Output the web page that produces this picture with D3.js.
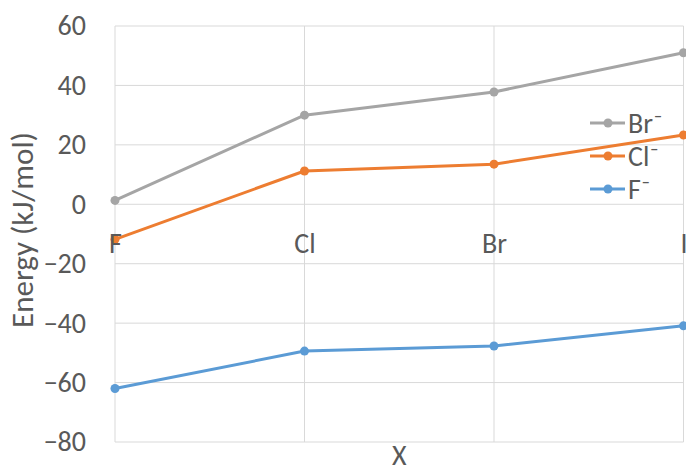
<!DOCTYPE html>
<html><head><meta charset="utf-8">
<script src="https://cdn.jsdelivr.net/npm/d3@7"></script>
<style>
html,body{margin:0;padding:0;background:#fff;}
svg{display:block;font-family:Calibri,Carlito,Lato,"Open Sans",sans-serif;}
</style></head>
<body>
<svg id="chart" width="686" height="471"></svg>
<script>
const categories = ["F", "Cl", "Br", "I"];
const seriesNames = ["Br\u207B", "Cl\u207B", "F\u207B"];
const brValues = [1.3, 30.0, 37.8, 51.0];
const clValues = [-11.8, 11.2, 13.5, 23.3];
const fValues = [-62.0, -49.4, -47.7, -40.9];
const yTicks = [-80, -60, -40, -20, 0, 20, 40, 60];
const seriesColors = ["#a5a5a5", "#ed7d31", "#5b9bd5"];

const series = [brValues, clValues, fValues].map((v, i) => ({name: seriesNames[i], values: v, color: seriesColors[i]}));

const svg = d3.select("#chart");
const x = d3.scalePoint().domain(categories).range([115, 683.5]);
const y = d3.scaleLinear().domain([-80, 60]).range([442, 26]);
const textColor = "#595959";
const gridColor = "#d9d9d9";
const fs = 28;
const ff = "Calibri,Carlito,Lato,sans-serif";

// horizontal gridlines
svg.append("g").selectAll("line").data(yTicks).join("line")
  .attr("x1", x.range()[0]).attr("x2", x.range()[1])
  .attr("y1", d => y(d)).attr("y2", d => y(d))
  .attr("stroke", gridColor).attr("stroke-width", 1);
// vertical gridlines
svg.append("g").selectAll("line").data(categories).join("line")
  .attr("x1", d => x(d)).attr("x2", d => x(d))
  .attr("y1", y(60)).attr("y2", y(-80))
  .attr("stroke", gridColor).attr("stroke-width", 1);

// y axis via d3.axisLeft
const yAxis = svg.append("g").attr("transform", `translate(${x.range()[0]},0)`)
  .call(d3.axisLeft(y).tickValues(yTicks).tickSize(0).tickPadding(29));
yAxis.select(".domain").remove();
yAxis.selectAll("text").attr("fill", textColor).style("font-size", fs + "px")
  .style("font-family", ff);

// lines
const line = d3.line().x((d, i) => x(categories[i])).y(d => y(d));
series.forEach(s => {
  svg.append("path").attr("d", line(s.values)).attr("fill", "none")
    .attr("stroke", s.color).attr("stroke-width", 3).attr("stroke-linejoin", "round").attr("stroke-linecap", "round");
  svg.append("g").selectAll("circle").data(s.values).join("circle")
    .attr("cx", (d, i) => x(categories[i])).attr("cy", d => y(d)).attr("r", 4.5)
    .attr("fill", s.color);
});

// category labels near zero line
const xAxis = svg.append("g").attr("transform", `translate(0,${y(0)})`)
  .call(d3.axisBottom(x).tickSize(0).tickPadding(0));
xAxis.select(".domain").remove();
xAxis.selectAll("text").attr("fill", textColor).style("font-size", fs + "px")
  .attr("y", 49).attr("dy", 0).style("font-family", ff);

// axis titles
svg.append("text").attr("transform", `translate(33,${(y(60) + y(-80)) / 2 - 4}) rotate(-90)`)
  .attr("text-anchor", "middle").attr("fill", textColor).style("font-size", "31px")
  .text("Energy (kJ/mol)");
svg.append("text").attr("x", (x.range()[0] + x.range()[1]) / 2).attr("y", 465)
  .attr("text-anchor", "middle").attr("fill", textColor).style("font-size", fs + "px")
  .text("X");

// legend
const legend = svg.append("g");
series.forEach((s, i) => {
  const ly = 123 + i * 33;
  legend.append("line").attr("x1", 590).attr("x2", 625).attr("y1", ly).attr("y2", ly)
    .attr("stroke", s.color).attr("stroke-width", 3);
  legend.append("circle").attr("cx", 608).attr("cy", ly).attr("r", 4.5).attr("fill", s.color);
  legend.append("text").attr("x", 628).attr("y", ly + 10).attr("fill", textColor)
    .style("font-size", fs + "px").text(s.name);
});
</script>
</body></html>
